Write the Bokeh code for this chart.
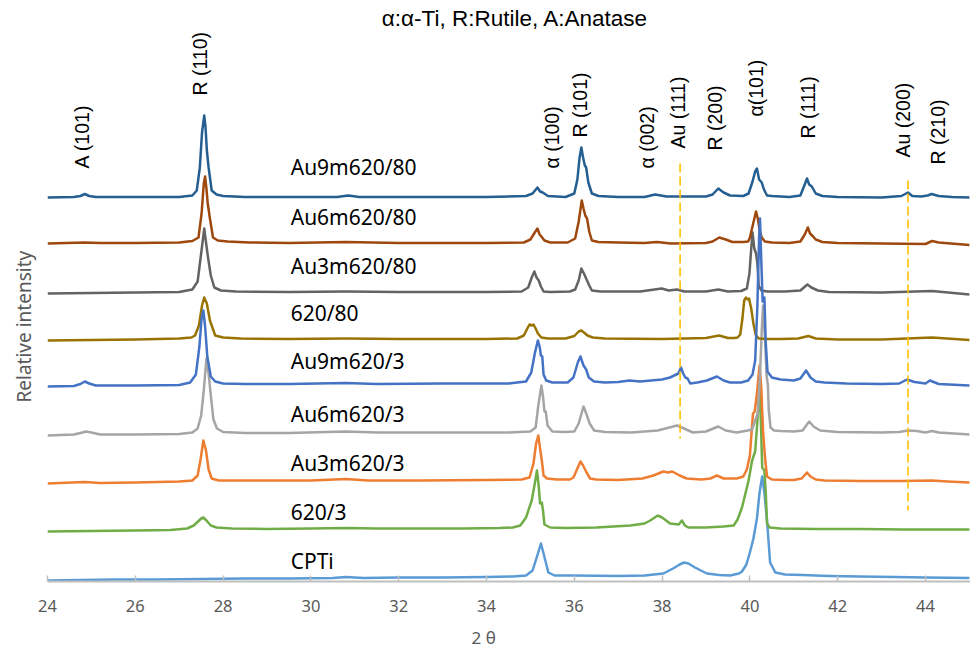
import numpy as np
from bokeh.plotting import figure
from bokeh.models import FixedTicker, Range1d, Title
from bokeh.core.properties import value
from bokeh.embed import file_html
from bokeh.resources import INLINE

# ---------------- data (2-theta, relative intensity) ----------------
tick_values = [24, 26, 28, 30, 32, 34, 36, 38, 40, 42, 44]
tick_labels = ["24", "26", "28", "30", "32", "34", "36", "38", "40", "42", "44"]

cpti = [(24.0,0),(24.8,0.5),(25.5,1),(26.5,1),(27.5,1.5),(28.5,2),(29.5,2),(30.5,2.5),(30.8,3.5),(31.2,2.5),
        (32.0,3),(33.0,3),(34.0,3.5),(34.6,4),(34.9,5),(35.05,10),(35.15,24),(35.24,37),(35.3,27),(35.34,20),
        (35.41,8),(35.55,5),(36.0,5),(37.0,4.5),(37.6,5),(38.03,7),(38.25,12),(38.4,16),(38.5,18),(38.6,17),
        (38.75,13),(39.02,7),(39.3,5.5),(39.55,5),(39.75,7),(39.82,9),(39.92,16),(40.0,28),(40.08,42),(40.16,62),
        (40.22,88),(40.28,104),(40.33,88),(40.39,60),(40.46,18),(40.58,8),(40.8,6),(41.2,5.5),(41.8,4.5),(42.5,4),
        (43.3,3.5),(44.0,3),(45.0,2.5)]

s620_3 = [(24.0,0),(25.0,0.5),(26.0,1),(26.8,1.5),(27.18,3),(27.33,6),(27.43,10),(27.5,13),(27.55,14),(27.62,11),
          (27.72,6),(27.85,4),(28.2,3),(29.0,2.5),(30.0,3),(30.8,3.5),(31.5,3),(32.5,3),(33.5,3),(34.3,3.5),
          (34.6,4),(34.77,6),(34.9,14),(35.03,31),(35.1,48),(35.15,61),(35.19,45),(35.22,28),(35.26,29),(35.29,20),
          (35.32,7),(35.45,4),(35.8,3.5),(36.5,4),(37.28,6),(37.6,8),(37.73,11),(37.9,16),(38.0,14),(38.18,8),
          (38.38,7),(38.45,11),(38.52,6),(38.6,4),(39.0,4),(39.4,5),(39.63,6),(39.72,12),(39.82,24),(39.97,51),
          (40.05,71),(40.12,80),(40.17,110),(40.22,146),(40.25,110),(40.28,64),(40.33,61),(40.36,40),(40.39,8),
          (40.45,4),(40.7,3),(41.5,2.5),(42.5,2.5),(43.5,2),(45.0,2)]

au3m620_3 = [(24.0,0),(24.85,1.5),(25.2,0.5),(26.0,1),(27.0,2),(27.3,3),(27.42,8),(27.49,25),(27.55,43),(27.61,33),
             (27.67,14),(27.74,5),(27.9,3),(28.5,3),(30.0,3),(30.8,4.5),(31.3,3),(32.5,3),(34.0,3.5),(34.8,4),
             (34.98,6),(35.07,20),(35.13,40),(35.18,48),(35.22,35),(35.26,23),(35.3,8),(35.38,5),(35.6,4),(35.9,4),
             (35.98,6),(36.06,14),(36.14,22),(36.2,18),(36.28,11),(36.36,5),(36.5,4),(37.0,3.5),(37.55,5),(37.8,8),
             (38.03,12),(38.13,11),(38.23,12),(38.4,8),(38.56,5),(38.9,4),(39.1,5),(39.25,8),(39.4,5),(39.7,5),
             (39.85,7),(39.93,14),(40.0,28),(40.07,70),(40.11,72),(40.16,90),(40.22,118),(40.26,95),(40.3,52),
             (40.35,23),(40.39,7),(40.5,4),(40.8,3.5),(41.0,3.5),(41.18,5),(41.3,11),(41.38,7),(41.5,4),(41.7,3),
             (42.5,2.5),(43.5,2.5),(44.15,3),(44.5,2),(45.0,1)]

au6m620_3 = [(24.0,0),(24.6,1),(24.75,2.5),(24.88,4),(25.0,3),(25.2,1),(26.0,1),(27.0,1.5),(27.3,3),(27.42,7),
             (27.5,20),(27.56,45),(27.62,77),(27.67,62),(27.72,40),(27.78,16),(27.86,7),(28.0,3.5),(28.5,2.5),
             (29.5,2.5),(30.8,4),(31.5,3),(33.0,3),(34.5,3),(35.0,4),(35.12,8),(35.18,30),(35.25,50),(35.29,38),
             (35.32,24),(35.35,24),(35.39,10),(35.5,4),(35.8,3.5),(36.0,4),(36.1,12),(36.21,29),(36.28,21),
             (36.35,12),(36.45,5),(36.7,3.5),(37.3,3),(37.9,5),(38.34,10),(38.5,7),(38.7,3),(39.0,4),(39.28,9),
             (39.45,5),(39.7,3),(39.95,5),(40.05,6),(40.12,15),(40.18,22),(40.23,60),(40.27,105),(40.3,130),
             (40.34,100),(40.38,60),(40.41,50),(40.43,25),(40.47,8),(40.55,5),(40.7,4.5),(41.0,4),(41.2,5),
             (41.35,14),(41.45,9),(41.6,5),(42.0,3.5),(43.0,3),(43.4,3.5),(43.6,5),(43.8,4.5),(44.0,3),(44.15,4.5),
             (44.3,3),(45.0,1)]

au9m620_3 = [(24.0,0),(24.6,0.5),(24.75,2.5),(24.85,5),(24.95,3),(25.1,1),(26.0,1),(27.0,1.5),(27.25,4),(27.38,12),
             (27.46,40),(27.51,68),(27.55,76),(27.59,60),(27.64,30),(27.72,10),(27.82,5),(28.0,3),(28.5,2.5),
             (29.5,2.5),(30.8,3.5),(31.5,2.5),(33.0,3),(34.5,3),(34.9,5),(35.02,14),(35.1,33),(35.17,46),(35.21,40),
             (35.24,31),(35.27,30),(35.3,12),(35.36,6),(35.5,4),(35.85,4),(35.98,9),(36.08,24),(36.14,30),(36.21,21),
             (36.27,17),(36.33,9),(36.45,5),(36.7,4),(37.0,4.5),(37.25,6),(37.5,5),(38.0,7),(38.18,9),(38.37,13),
             (38.43,19),(38.48,13),(38.53,9),(38.58,8),(38.64,3),(38.8,4),(39.02,6),(39.25,10),(39.4,6),(39.55,4),
             (39.8,4),(39.96,6),(40.06,12),(40.12,26),(40.17,80),(40.21,150),(40.23,168),(40.26,125),(40.29,85),
             (40.33,89),(40.36,45),(40.4,15),(40.5,9),(40.7,7),(41.0,6),(41.15,8),(41.28,16),(41.38,9),(41.5,5),
             (41.7,4),(42.2,3),(43.0,2.5),(43.4,3),(43.58,7),(43.75,4.5),(44.0,3),(44.1,6),(44.3,2.5),(45.0,1)]

s620_80 = [(24.0,0),(25.0,0.5),(26.0,1),(27.0,2),(27.28,3),(27.36,5),(27.45,15),(27.52,35),(27.57,43),(27.63,37),
           (27.7,20),(27.82,5),(28.0,3),(28.4,2),(29.5,1.5),(30.8,2),(32.0,1.5),(34.0,1.5),(34.7,2),(34.85,5),
           (34.93,12),(34.98,16),(35.03,15),(35.07,16),(35.12,12),(35.17,7),(35.25,3),(35.4,2),(35.8,2),(36.0,4.5),
           (36.1,9),(36.16,10),(36.22,8),(36.3,5),(36.42,3),(36.7,2),(38.0,1.5),(39.0,2.5),(39.3,5),(39.5,2.5),
           (39.65,2.5),(39.72,3),(39.78,6),(39.83,22),(39.87,40),(39.91,43),(39.95,41),(39.98,42),(40.03,32),
           (40.08,17),(40.13,6),(40.2,2),(40.4,1.5),(40.7,1.5),(41.1,2),(41.33,4.5),(41.5,2),(42.0,1),(43.0,1),
           (44.15,3),(45.0,0.5)]

au3m620_80 = [(24.0,0),(25.0,0.5),(26.0,1),(27.0,1.5),(27.3,4),(27.42,12),(27.5,40),(27.57,65),(27.62,48),(27.66,35),
              (27.72,18),(27.8,6),(27.95,3),(28.3,2),(29.5,1.5),(30.8,2),(32.0,1.5),(34.0,1.5),(34.8,2),(34.95,6),
              (35.03,16),(35.09,22),(35.14,16),(35.19,13),(35.24,7),(35.3,2),(35.45,1.5),(35.9,2),(36.02,4),(36.1,13),
              (36.16,25),(36.22,20),(36.27,15),(36.33,9),(36.4,3),(36.6,2),(37.5,2),(37.99,5),(38.15,3),(38.34,4),
              (38.5,2),(39.0,2),(39.28,4),(39.5,2),(39.8,2.5),(39.93,5),(39.99,20),(40.03,45),(40.06,61),(40.1,45),
              (40.14,40),(40.17,30),(40.2,8),(40.26,3),(40.4,2),(40.8,2),(41.15,3),(41.31,9),(41.4,6),(41.55,3),
              (41.8,1.5),(43.0,1),(44.15,2.5),(45.0,-1)]

au6m620_80 = [(24.0,0),(24.85,1),(25.2,0.5),(26.0,0.5),(27.0,1),(27.3,2.5),(27.44,6),(27.51,30),(27.56,60),(27.59,67),
              (27.62,55),(27.65,40),(27.7,25),(27.77,6),(27.88,3),(28.1,2),(28.6,1),(29.5,0.5),(30.8,1.5),(32.0,0.5),
              (34.0,0.5),(34.85,1),(35.0,4),(35.1,11),(35.16,15),(35.21,9),(35.25,7),(35.32,3),(35.45,1),(35.85,1),
              (36.02,5),(36.1,22),(36.17,43),(36.21,35),(36.25,28),(36.29,25),(36.34,12),(36.4,3),(36.55,1.5),
              (37.0,1),(37.6,0.5),(37.88,1.5),(38.2,0),(39.0,0.5),(39.15,2),(39.3,6),(39.45,4),(39.6,1.5),
              (39.85,1.5),(39.96,2),(40.0,6),(40.08,21),(40.14,32),(40.18,25),(40.22,14),(40.27,6),(40.34,2),
              (40.5,1),(40.9,0.5),(41.15,2),(41.25,9),(41.32,16),(41.37,10),(41.44,7),(41.5,4),(41.65,1.5),
              (42.0,0.5),(43.0,0),(44.0,-0.5),(44.15,2.5),(44.3,1),(45.0,-1.5)]

au9m620_80 = [(24.0,0),(24.6,0.5),(24.75,1.5),(24.85,3.5),(24.95,1.5),(25.1,0.5),(26.0,0.5),(27.0,0.5),(27.3,2),
              (27.4,7),(27.47,30),(27.52,65),(27.57,82),(27.6,70),(27.63,47),(27.67,30),(27.74,7),(27.85,3),
              (28.0,1.5),(28.5,0.5),(29.5,0.5),(30.6,0.5),(30.85,2),(31.1,0.5),(32.0,0.5),(34.0,0.5),(34.9,1.5),
              (35.05,4),(35.16,10),(35.22,6),(35.28,5),(35.4,1.5),(35.8,0.5),(36.0,4),(36.07,18),(36.12,40),
              (36.16,50),(36.2,40),(36.24,32),(36.27,30),(36.32,15),(36.4,4),(36.55,1.5),(37.0,0.5),(37.6,0.5),
              (37.84,3),(38.1,1),(39.0,1),(39.15,3),(39.28,9),(39.4,5),(39.55,2),(39.85,1.5),(39.97,4),(40.06,16),
              (40.12,26),(40.16,29),(40.21,18),(40.27,15),(40.32,8),(40.39,2),(40.5,1.5),(40.9,0.5),(41.15,2),
              (41.24,12),(41.3,19),(41.35,13),(41.41,11),(41.5,4),(41.65,1.5),(42.0,0.5),(43.0,0),(43.45,1.5),
              (43.6,5),(43.7,1.5),(43.9,1),(44.05,2),(44.14,3.5),(44.3,1.5),(44.6,0.5),(45.0,0)]

sample_names = ["Au9m620/80", "Au6m620/80", "Au3m620/80", "620/80", "Au9m620/3",
                "Au6m620/3", "Au3m620/3", "620/3", "CPTi"]
sample_series = [au9m620_80, au6m620_80, au3m620_80, s620_80, au9m620_3,
                 au6m620_3, au3m620_3, s620_3, cpti]
stack_offsets = [384, 338, 288, 241, 195, 146, 98, 50, 1]
sample_colors = ["#255E91", "#9E480E", "#636363", "#997300", "#4472C4",
                 "#A5A5A5", "#ED7D31", "#70AD47", "#5B9BD5"]
draw_order = [8, 7, 6, 5, 3, 2, 1, 0, 4]

peak_labels = ["A (101)", "R (110)", "\u03b1 (100)", "R (101)", "\u03b1 (002)", "Au (111)",
               "R (200)", "\u03b1(101)", "R (111)", "Au (200)", "R (210)"]
peak_label_2theta = [24.79, 27.48, 35.5, 36.14, 37.66, 38.37, 39.21, 40.14, 41.33, 43.49, 44.29]

au_marker_2theta = [38.41, 43.6]

# ---------------- layout ----------------
label_x = 29.54
sample_label_y = [415, 365, 316, 269, 221, 168, 119, 70, 21]
peak_label_y = [413, 486, 413, 444, 413, 433, 431, 465, 443, 424, 417]
au_marker_y = [(418, 143), (401, 71)]

p = figure(width=970, height=659, x_range=Range1d(24, 45.025), y_range=Range1d(0, 581),
           output_backend="svg", toolbar_location=None, y_axis_location=None,
           min_border_left=47, min_border_right=0, min_border_top=0, min_border_bottom=78)
p.outline_line_color = None
p.grid.visible = False
p.background_fill_color = "white"
p.border_fill_color = "white"

ax = p.xaxis[0]
ax.ticker = FixedTicker(ticks=tick_values)
ax.major_label_overrides = {t: l for t, l in zip(tick_values, tick_labels)}
ax.axis_line_color = "#BFBFBF"
ax.axis_line_width = 2
ax.major_tick_line_color = "#BFBFBF"
ax.major_tick_line_width = 1.5
ax.major_tick_in = 6
ax.major_tick_out = 0
ax.minor_tick_line_color = None
ax.major_label_text_font = "Noto Sans"
ax.major_label_text_font_size = "16.5px"
ax.major_label_text_color = "#595959"
ax.major_label_standoff = 18

for i in draw_order:
    xs = [pt[0] for pt in sample_series[i]]
    ys = [stack_offsets[i] + pt[1] for pt in sample_series[i]]
    p.line(xs, ys, line_color=sample_colors[i], line_width=2.5, line_join="round")

for xm, (y0, y1) in zip(au_marker_2theta, au_marker_y):
    p.line([xm, xm], [y0, y1], line_color="#FFC000", line_width=1.6, line_dash="9 4")

p.text(x=[label_x] * len(sample_names), y=sample_label_y, text=sample_names,
       text_font=value("Noto Sans"), text_font_size="21px", text_color="black",
       text_align="left", text_baseline="middle")

p.text(x=peak_label_2theta, y=peak_label_y, text=peak_labels, angle=np.pi / 2,
       text_font=value("Liberation Sans"), text_font_size="19.5px", text_color="black",
       text_align="left", text_baseline="middle")

p.text(x=[34.65], y=[563.5], text=["\u03b1:\u03b1-Ti, R:Rutile, A:Anatase"],
       text_font=value("Liberation Sans"), text_font_size="22.5px", text_color="black",
       text_align="center", text_baseline="middle")

p.add_layout(Title(text="Relative intensity", align="left", vertical_align="top", offset=179,
                   standoff=18, text_font="Noto Sans", text_font_size="19px",
                   text_font_style="normal", text_color="#595959"), "left")
p.add_layout(Title(text="2 \u03b8", align="left", offset=424, standoff=19,
                   text_font="Noto Sans", text_font_size="17px", text_font_style="normal",
                   text_color="#595959"), "below")

open("out.html", "w").write(file_html(p, INLINE))
